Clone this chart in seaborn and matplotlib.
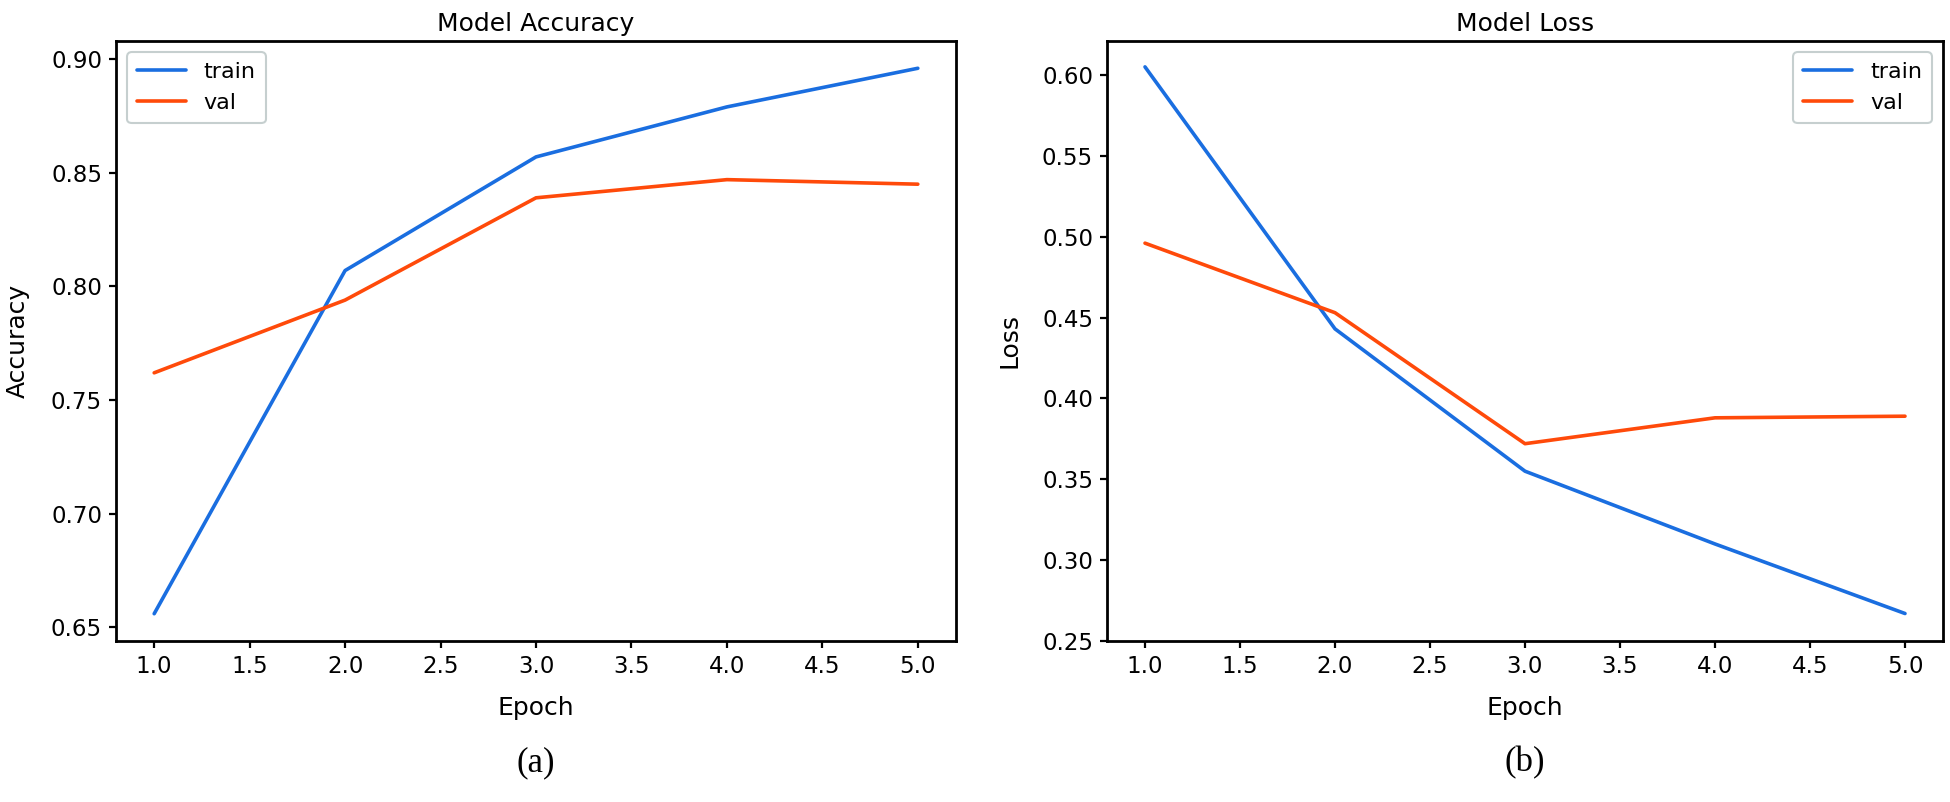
import pandas as pd
import seaborn as sns
import matplotlib.pyplot as plt

# data
epochs = [1, 2, 3, 4, 5]
acc_train = [0.656, 0.807, 0.857, 0.879, 0.896]
acc_val = [0.762, 0.794, 0.839, 0.847, 0.845]
loss_train = [0.605, 0.443, 0.355, 0.310, 0.267]
loss_val = [0.496, 0.453, 0.372, 0.388, 0.389]

blue = '#1a6ee0'
orange = '#ff4a0a'

sns.set_style('ticks')
plt.rcParams['font.family'] = ['DejaVu Sans']
plt.rcParams['text.color'] = 'black'
plt.rcParams['axes.labelcolor'] = 'black'
plt.rcParams['xtick.color'] = 'black'
plt.rcParams['ytick.color'] = 'black'

acc = pd.DataFrame({'Epoch': epochs * 2,
                    'value': acc_train + acc_val,
                    'set': ['train'] * 5 + ['val'] * 5})
loss = pd.DataFrame({'Epoch': epochs * 2,
                     'value': loss_train + loss_val,
                     'set': ['train'] * 5 + ['val'] * 5})

fig = plt.figure(figsize=(19.5, 8.02), dpi=100)
ax1 = fig.add_axes([116 / 1950, 161 / 802, 840 / 1950, 600 / 802])
ax2 = fig.add_axes([1107 / 1950, 161 / 802, 836 / 1950, 600 / 802])

panels = [(ax1, acc, 'Model Accuracy', 'Accuracy', 'upper left', '(a)'),
          (ax2, loss, 'Model Loss', 'Loss', 'upper right', '(b)')]

for ax, df, title, ylab, loc, tag in panels:
    sns.lineplot(data=df, x='Epoch', y='value', hue='set',
                 palette=[blue, orange], linewidth=2.6, ax=ax)
    ax.set_title(title, fontsize=18, pad=7)
    ax.set_xlabel('Epoch', fontsize=18, labelpad=13)
    ax.set_ylabel(ylab, fontsize=18, labelpad=15)
    ax.set_xlim(0.8, 5.2)
    ax.set_xticks([1.0, 1.5, 2.0, 2.5, 3.0, 3.5, 4.0, 4.5, 5.0])
    ax.tick_params(labelsize=16.5, width=1.6, length=5, pad=5, colors='black')
    for s in ax.spines.values():
        s.set_visible(True)
        s.set_linewidth(2)
        s.set_color('black')
    leg = ax.legend(loc=loc, fontsize=16, title=None, frameon=True,
                    handlelength=2.2, borderpad=0.45)
    leg.get_frame().set_edgecolor('#b8c4c4')
    leg.get_frame().set_linewidth(1.5)
    ax.text(0.5, -0.203, tag, transform=ax.transAxes, ha='center', va='center',
            fontsize=25, family='Liberation Serif')

ax1.set_ylim(0.644, 0.908)
ax1.set_yticks([0.65, 0.70, 0.75, 0.80, 0.85, 0.90])
ax2.set_ylim(0.25, 0.621)
ax2.set_yticks([0.25, 0.30, 0.35, 0.40, 0.45, 0.50, 0.55, 0.60])

plt.savefig('out.png', dpi=100)
